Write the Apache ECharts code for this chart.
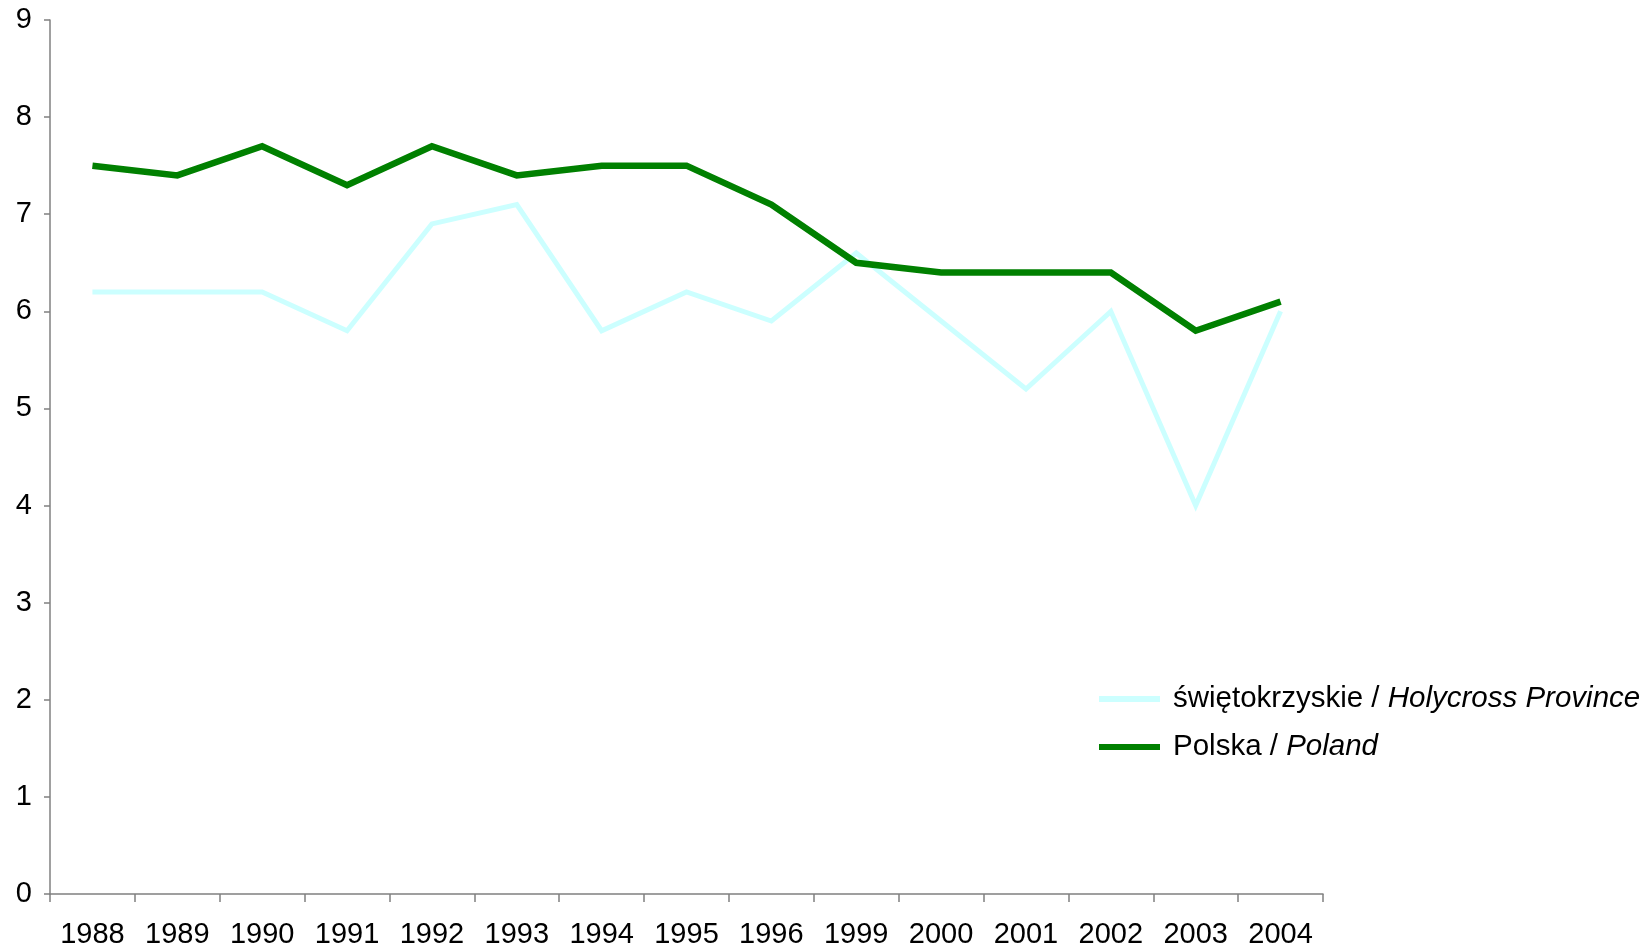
<!DOCTYPE html>
<html>
<head>
<meta charset="utf-8">
<script src="https://cdn.jsdelivr.net/npm/echarts@6/dist/echarts.min.js"></script>
<style>
  html, body { margin: 0; padding: 0; background: #fff; }
  #chart { width: 1649px; height: 952px; }
</style>
</head>
<body>
<div id="chart"></div>
<script>
// Years on the category axis
const years = ['1988', '1989', '1990', '1991', '1992', '1993', '1994', '1995',
               '1996', '1999', '2000', '2001', '2002', '2003', '2004'];

// Świętokrzyskie voivodeship
const holycross = [6.2, 6.2, 6.2, 5.8, 6.9, 7.1, 5.8, 6.2, 5.9, 6.6, 5.9, 5.2, 6.0, 4.0, 6.0];

// Poland overall
const poland = [7.5, 7.4, 7.7, 7.3, 7.7, 7.4, 7.5, 7.5, 7.1, 6.5, 6.4, 6.4, 6.4, 5.8, 6.1];

// Value axis range
const yMin = 0;
const yMax = 9;
const yStep = 1;

const FONT = 'Liberation Sans, Arial, sans-serif';
const AXIS_COLOR = '#808080';

const chart = echarts.init(document.getElementById('chart'), null, { renderer: 'canvas' });

chart.setOption({
  backgroundColor: '#ffffff',
  animation: false,
  grid: { left: 50, right: 326, top: 20, bottom: 58, containLabel: false },
  legend: {
    orient: 'vertical',
    left: 1094,
    top: 679,
    itemWidth: 61,
    itemHeight: 6,
    itemGap: 18,
    icon: 'rect',
    textStyle: {
      fontFamily: FONT,
      fontSize: 29.5,
      color: '#000',
      padding: [0, 0, 0, 8],
      rich: {
        i: { fontFamily: FONT, fontSize: 29.5, fontStyle: 'italic', color: '#000' }
      }
    },
    formatter: function (name) {
      const parts = name.split(' / ');
      return parts[0] + ' / {i|' + parts[1] + '}';
    },
    data: ['świętokrzyskie / Holycross Province', 'Polska / Poland']
  },
  xAxis: {
    type: 'category',
    data: years,
    boundaryGap: true,
    axisLine: { lineStyle: { color: AXIS_COLOR, width: 1.5 } },
    axisTick: { show: true, length: 8, inside: false, alignWithLabel: false,
                lineStyle: { color: AXIS_COLOR, width: 1.5 } },
    axisLabel: { fontFamily: FONT, fontSize: 29, color: '#000', margin: 26, interval: 0 },
    splitLine: { show: false }
  },
  yAxis: {
    type: 'value',
    min: yMin,
    max: yMax,
    interval: yStep,
    axisLine: { show: true, lineStyle: { color: AXIS_COLOR, width: 1.5 } },
    axisTick: { show: true, length: 6, lineStyle: { color: AXIS_COLOR, width: 1.5 } },
    axisLabel: { fontFamily: FONT, fontSize: 29, color: '#000', margin: 18 },
    splitLine: { show: false }
  },
  series: [
    {
      name: 'świętokrzyskie / Holycross Province',
      type: 'line',
      data: holycross,
      showSymbol: false,
      symbol: 'none',
      color: '#CCFFFF',
      lineStyle: { color: '#CCFFFF', width: 5, join: 'miter' }
    },
    {
      name: 'Polska / Poland',
      type: 'line',
      data: poland,
      showSymbol: false,
      symbol: 'none',
      color: '#008000',
      lineStyle: { color: '#008000', width: 6.5, join: 'miter' }
    }
  ]
});
</script>
</body>
</html>
